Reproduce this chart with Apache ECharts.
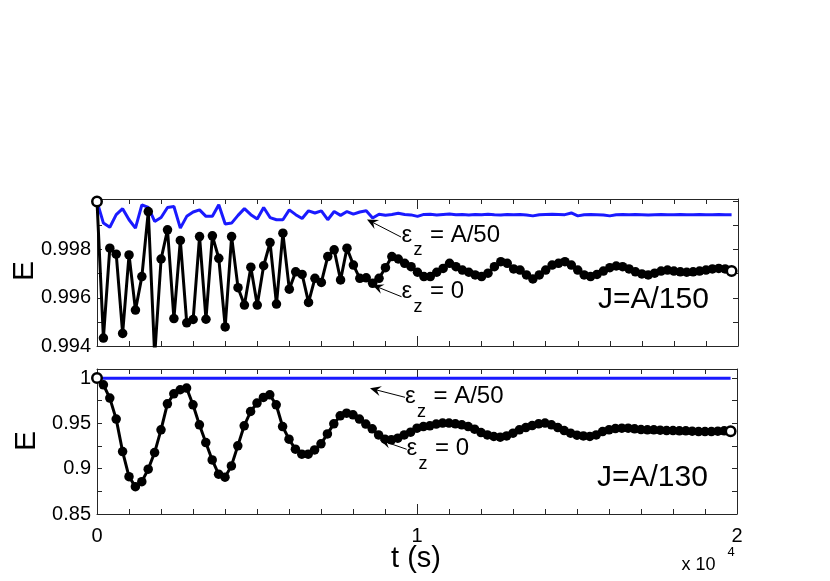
<!DOCTYPE html>
<html>
<head>
<meta charset="utf-8">
<script src="https://cdn.jsdelivr.net/npm/echarts@6/dist/echarts.min.js"></script>
<style>
html,body{margin:0;padding:0;background:#fff;}
#c{width:830px;height:581px;}
</style>
</head>
<body>
<div id="c"></div>
<script>
// sample times (s): 0 .. 19800, step 200
const tStep = 200;
const nSamples = 100;

// Top panel, J = A/150, eps_z = A/50 (blue)
const topBlue = [
1.0000,0.9991,0.99893,0.99945,0.9997,0.99924,0.99889,0.99986,0.99975,0.99917,
0.99933,0.99975,0.99979,0.99889,0.99938,0.99956,0.99965,0.99938,0.99938,0.99986,
0.99906,0.9991,0.99942,0.9997,0.99945,0.99927,0.99975,0.99933,0.99924,0.99924,
0.99965,0.99945,0.99929,0.99961,0.99952,0.99961,0.99924,0.99958,0.99942,0.99958,
0.99947,0.99956,0.99961,0.99931,0.99947,0.99943,0.99946,0.99951,0.99946,0.99944,
0.99938,0.99946,0.99947,0.99944,0.99946,0.99948,0.99945,0.99946,0.99944,0.99946,
0.99945,0.99947,0.99945,0.99944,0.99946,0.99945,0.99946,0.99944,0.9994,0.99945,
0.99946,0.99947,0.99946,0.99945,0.99952,0.9994,0.99945,0.99946,0.99945,0.99944,
0.9994,0.99945,0.99946,0.99945,0.99946,0.99945,0.99944,0.99945,0.99946,0.99945,
0.99945,0.99946,0.99945,0.99945,0.99946,0.99945,0.99945,0.99946,0.99945,0.99945
];
// Top panel, eps_z = 0 (black markers)
const topBlack = [
1.0000,0.99433,0.99806,0.99781,0.99452,0.99778,0.99549,0.99688,0.99958,0.9936,
0.99761,0.99882,0.99514,0.99838,0.99496,0.9951,0.99854,0.99511,0.99857,0.99764,
0.99479,0.99854,0.99642,0.9957,0.99727,0.9957,0.99733,0.99829,0.99574,0.99868,
0.99636,0.99708,0.99697,0.99581,0.99681,0.99664,0.99771,0.99799,0.99674,0.99806,
0.99736,0.99681,0.99683,0.9966,0.99681,0.99725,0.99771,0.99761,0.99743,0.99729,
0.99706,0.99688,0.99688,0.99706,0.99722,0.99743,0.99729,0.99715,0.99706,0.99695,
0.99688,0.99702,0.99729,0.9975,0.99743,0.9972,0.99715,0.99695,0.99678,0.99695,
0.99715,0.99736,0.99743,0.9975,0.99736,0.99715,0.99695,0.99688,0.99697,0.99711,
0.99725,0.99732,0.99729,0.9972,0.99708,0.99699,0.99695,0.99702,0.99711,0.99715,
0.99711,0.99708,0.99706,0.99708,0.99711,0.99715,0.9972,0.99722,0.9972,0.99711
];
// Bottom panel, J = A/130, eps_z = A/50 (blue)
const botBlue = [
1.0000,0.9998,0.9997,0.9997,0.9998,0.9998,0.9997,0.9998,0.9998,0.9997,
0.9998,0.9998,0.9998,0.9997,0.9998,0.9998,0.9998,0.9998,0.9997,0.9998,
0.9998,0.9998,0.9998,0.9998,0.9998,0.9998,0.9998,0.9998,0.9998,0.9998,
0.9998,0.9998,0.9998,0.9998,0.9998,0.9998,0.9998,0.9998,0.9998,0.9998,
0.9998,0.9998,0.9998,0.9998,0.9998,0.9998,0.9998,0.9998,0.9998,0.9998,
0.9998,0.9998,0.9998,0.9998,0.9998,0.9998,0.9998,0.9998,0.9998,0.9998,
0.9998,0.9998,0.9998,0.9998,0.9998,0.9998,0.9998,0.9998,0.9998,0.9998,
0.9998,0.9998,0.9998,0.9998,0.9998,0.9998,0.9998,0.9998,0.9998,0.9998,
0.9998,0.9998,0.9998,0.9998,0.9998,0.9998,0.9998,0.9998,0.9998,0.9998,
0.9998,0.9998,0.9998,0.9998,0.9998,0.9998,0.9998,0.9998,0.9998,0.9998
];
// Bottom panel, eps_z = 0 (black markers)
const botBlack = [
1.0000,0.9926,0.9779,0.9547,0.9189,0.8912,0.8802,0.8857,0.8994,0.9178,
0.9429,0.9716,0.9826,0.9871,0.9889,0.9705,0.9484,0.9288,0.9097,0.8939,
0.8906,0.9031,0.9252,0.9473,0.9631,0.9724,0.9786,0.9815,0.9705,0.9465,
0.9326,0.9215,0.9160,0.9160,0.9207,0.9274,0.9384,0.9495,0.9583,0.9613,
0.9594,0.9547,0.9492,0.9440,0.9373,0.9326,0.9318,0.9337,0.9373,0.9403,
0.9447,0.9465,0.9473,0.9492,0.9503,0.9503,0.9495,0.9484,0.9465,0.9436,
0.9399,0.9373,0.9355,0.9348,0.9362,0.9392,0.9429,0.9454,0.9476,0.9495,
0.9503,0.9484,0.9454,0.9421,0.9392,0.9370,0.9362,0.9355,0.9373,0.9410,
0.9429,0.9443,0.9447,0.9447,0.9440,0.9432,0.9429,0.9429,0.9425,0.9421,
0.9421,0.9418,0.9418,0.9414,0.9410,0.9410,0.9410,0.9414,0.9418,0.9414
];
const xTicks = [0, 10000, 20000];
const topYTicks = [0.994, 0.996, 0.998];
const botYTicks = [0.85, 0.9, 0.95, 1];

const times = Array.from({length: nSamples}, (_, i) => i * tStep);

const FONT = 'Liberation Sans, Arial, sans-serif';
const AX = '#262626';
const BLUE = '#1a1aff';

function blackData(vals) {
  return vals.map((v, i) => {
    const d = {value: [times[i], v]};
    if (i === 0 || i === vals.length - 1) {
      d.itemStyle = {color: '#fff', borderColor: '#000', borderWidth: 2.5};
    }
    return d;
  });
}
function pairs(vals) { return vals.map((v, i) => [times[i], v]); }

function xAxisCfg(grid, pos, labels) {
  return {
    type: 'value', gridIndex: grid, position: pos, min: 0, max: 20000, interval: 10000,
    axisLine: {show: true, onZero: false, lineStyle: {color: AX, width: 1}},
    axisTick: {show: true, inside: true, length: 10, lineStyle: {color: AX}},
    minorTick: {show: true, splitNumber: 10, length: 5, lineStyle: {color: AX}},
    splitLine: {show: false},
    axisLabel: {show: labels, fontSize: 20, color: '#000', fontFamily: FONT, margin: 12,
      formatter: v => xTicks.indexOf(v) >= 0 ? String(v / 10000) : ''}
  };
}
function yAxisCfg(grid, pos, min, max, interval, ticks, labels) {
  return {
    type: 'value', gridIndex: grid, position: pos, min: min, max: max, interval: interval,
    axisLine: {show: true, onZero: false, lineStyle: {color: AX, width: 1}},
    axisTick: {show: true, inside: true, length: 5, lineStyle: {color: AX}},
    splitLine: {show: false},
    axisLabel: {show: labels, fontSize: 20, color: '#000', fontFamily: FONT, margin: 6,
      showMaxLabel: false,
      formatter: v => {
        for (const t of ticks) { if (Math.abs(v - t) < 1e-7) return String(t); }
        return '';
      }}
  };
}

function arrow(x1, y1, x2, y2) {
  // x1,y1 = tail, x2,y2 = head
  const a = Math.atan2(y2 - y1, x2 - x1);
  const L = 11, W = 5, back = 7;
  const ux = Math.cos(a), uy = Math.sin(a);
  const px = -uy, py = ux;
  const bx = x2 - ux * L, by = y2 - uy * L;
  const nx = x2 - ux * back, ny = y2 - uy * back;
  return [
    {type: 'line', shape: {x1: x1, y1: y1, x2: nx, y2: ny}, style: {stroke: '#000', lineWidth: 1}},
    {type: 'polygon', shape: {points: [[x2, y2], [bx + px * W, by + py * W], [nx, ny], [bx - px * W, by - py * W]]},
      style: {fill: '#000'}}
  ];
}
function txt(x, y, s, size, extra) {
  return Object.assign({type: 'text', x: x, y: y,
    style: {text: s, fontSize: size, fontFamily: FONT, fill: '#000', align: 'left', verticalAlign: 'middle'}}, extra || {});
}
function epsLabel(x, y, rest) {
  // x: left of epsilon; y: middle line of main text
  return [
    txt(x, y, 'ε', 24),
    txt(x + 12, y + 15.5, 'z', 18),
    txt(x + 28.5, y, rest, 24)
  ];
}

const graphics = [].concat(
  arrow(401, 237, 367, 219.5),
  epsLabel(401.5, 235, '= A/50'),
  arrow(401.5, 296.7, 372.5, 285),
  epsLabel(401.5, 291.6, '= 0'),
  arrow(405, 397.3, 370, 388.3),
  epsLabel(405, 396.6, '= A/50'),
  arrow(406.7, 449.3, 380, 440),
  epsLabel(406.5, 448.3, '= 0'),
  [
    txt(598, 299.5, 'J=A/150', 30),
    txt(597, 477.5, 'J=A/130', 30),
    txt(25, 271, 'E', 30, {rotation: Math.PI / 2, style: {text: 'E', fontSize: 30, fontFamily: FONT, fill: '#000', align: 'center', verticalAlign: 'middle'}}),
    txt(27, 441, 'E', 30, {rotation: Math.PI / 2, style: {text: 'E', fontSize: 30, fontFamily: FONT, fill: '#000', align: 'center', verticalAlign: 'middle'}}),
    {type: 'text', x: 416, y: 559, style: {text: 't (s)', fontSize: 29, fontFamily: FONT, fill: '#000', align: 'center', verticalAlign: 'middle'}},
    txt(681.5, 565.4, 'x 10', 18),
    txt(727.5, 552, '4', 13)
  ]
);

const chart = echarts.init(document.getElementById('c'), null, {renderer: 'canvas'});
chart.setOption({
  animation: false,
  backgroundColor: '#fff',
  grid: [
    {left: 97, top: 199, width: 641, height: 147},
    {left: 97, top: 369, width: 640, height: 145}
  ],
  xAxis: [
    xAxisCfg(0, 'bottom', false),
    xAxisCfg(0, 'top', false),
    xAxisCfg(1, 'bottom', true),
    xAxisCfg(1, 'top', false)
  ],
  yAxis: [
    yAxisCfg(0, 'left', 0.994, 1.0001, 0.001, topYTicks, true),
    yAxisCfg(0, 'right', 0.994, 1.0001, 0.001, topYTicks, false),
    yAxisCfg(1, 'left', 0.85, 1.01, 0.025, botYTicks, true),
    yAxisCfg(1, 'right', 0.85, 1.01, 0.025, botYTicks, false)
  ],
  series: [
    {type: 'line', xAxisIndex: 0, yAxisIndex: 0, data: pairs(topBlue), showSymbol: false,
      lineStyle: {color: BLUE, width: 3}, itemStyle: {color: BLUE}, z: 2, clip: true},
    {type: 'line', xAxisIndex: 0, yAxisIndex: 0, data: blackData(topBlack), symbol: 'circle', symbolSize: 9.5,
      lineStyle: {color: '#000', width: 3}, itemStyle: {color: '#000'}, z: 3, clip: true},
    {type: 'line', xAxisIndex: 2, yAxisIndex: 2, data: pairs(botBlue), showSymbol: false,
      lineStyle: {color: BLUE, width: 3}, itemStyle: {color: BLUE}, z: 2, clip: true},
    {type: 'line', xAxisIndex: 2, yAxisIndex: 2, data: blackData(botBlack), symbol: 'circle', symbolSize: 9.5,
      lineStyle: {color: '#000', width: 3}, itemStyle: {color: '#000'}, z: 3, clip: true}
  ],
  graphic: graphics
});
</script>
</body>
</html>
